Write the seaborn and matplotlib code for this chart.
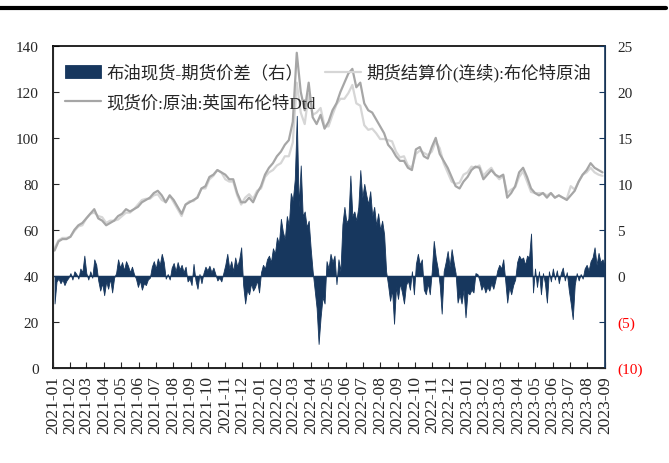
import numpy as np
import pandas as pd
import matplotlib
matplotlib.use("Agg")
import matplotlib.pyplot as plt
import matplotlib.dates as mdates
from matplotlib.lines import Line2D
import seaborn as sns

# weekly prices (USD/bbl), weeks starting 2021-01-04
spot = [51, 55, 56, 56, 57, 60, 62, 63, 65, 67,
        69, 65, 64, 62, 63, 64, 66, 67, 69, 68,
        69, 70, 72, 73, 74, 76, 77, 75, 72, 75,
        73, 70, 67, 71, 72, 73, 74, 78, 79, 83,
        84, 86, 85, 84, 82, 82, 76, 72, 72, 74,
        72, 76, 79, 84, 87, 89, 92, 94, 97, 99,
        107, 137, 120, 112, 124, 109, 106, 110, 104, 107,
        112, 115, 120, 124, 128, 130, 122, 124, 115, 112,
        111, 108, 105, 102, 97, 95, 92, 90, 90, 87,
        86, 95, 96, 92, 91, 96, 100, 93, 90, 87,
        83, 79, 78, 81, 83, 86, 87.5, 87, 82, 84,
        86, 84, 83, 84, 74, 76, 79, 85, 87, 83,
        78, 76, 75, 76, 74, 76, 74, 75, 74, 73,
        75, 77, 81, 84, 86, 89, 87, 86, 85]

futures = [52, 55.5, 56.5, 56.5, 57, 59.5, 61.5, 62, 65, 67,
           67.5, 66, 65.5, 63, 64, 64, 64.5, 66, 67.5, 67.5,
           69, 71, 73, 73.5, 73.5, 75, 75.5, 73, 72, 75,
           72, 69, 66, 71, 72.5, 72.5, 74.5, 78, 78, 82,
           83.5, 86, 85, 82, 81, 81, 75, 71, 74, 75.5,
           73.5, 77, 78, 83, 85, 86, 88, 89, 92, 92,
           98, 124, 111, 106, 119, 110, 111, 113, 105, 105,
           110, 114.5, 117, 117, 119.5, 123, 115, 114, 105.5, 103.5,
           104, 102, 99.5, 99.5, 99, 98.5, 94, 91.5, 92, 88,
           87, 93, 94.5, 93.5, 92.5, 94, 98.5, 95.5, 89, 85,
           81, 80, 80.5, 84, 85, 87.5, 87, 88, 83.5, 85.5,
           87, 84, 82, 83.5, 76, 77.5, 78.5, 83, 85.5, 81,
           76.5, 76, 76, 76, 75, 76, 74, 75, 74, 73.5,
           79, 77.5, 81, 84, 85, 87, 85, 84, 83.5]

# spot minus futures spread, twice a week
spread = [-3.0, -0.6, -0.3, -0.8, -0.4, -1.0, -0.5, -0.2, 0.3, -0.4,
          0.5, 0.2, -0.3, 0.8, 0.4, 2.2, 0.3, -0.4, 0.5, -0.2,
          1.8, 1.2, -0.5, -1.6, -0.8, -2.1, -0.6, -1.4, -0.3, -1.8,
          -0.2, 0.3, 1.8, 0.9, 1.5, 0.6, 1.6, 1.1, 0.4, 1.0,
          0.2, -0.3, -1.2, -0.5, -1.5, -0.8, -1.0, -0.4, -0.2, 1.0,
          1.6, 0.8, 1.9, 1.2, 2.4, 1.5, -0.3, 0.2, -0.4, 0.9,
          1.4, 0.5, 1.5, 0.7, 1.2, 0.4, 1.0, -0.6, -0.3, -1.0,
          1.3, -0.5, -1.4, 0.2, -0.8, 0.3, 1.0, 0.6, 1.1, 0.4,
          0.9, 0.2, -0.5, -0.2, -0.6, 0.3, 1.2, 2.4, 0.8, 1.6,
          0.5, 2.0, 1.0, 1.8, 3.1, -1.0, -3.0, -1.5, -2.0, -0.8,
          -1.6, -1.2, -0.5, -1.8, 0.4, 1.2, 0.8, 1.8, 2.2, 1.5,
          3.0, 2.4, 4.2, 3.5, 6.2, 4.8, 4.0, 6.5, 5.5, 9.0,
          8.2, 10.5, 17.4, 7.5, 12.0, 6.5, 7.0, 5.3, 6.0, 3.0,
          0.5, -1.5, -3.5, -7.4, -4.5, -2.3, -3.0, 1.6, 0.8, 2.4,
          1.5, 2.2, -0.9, 1.8, 0.5, 5.6, 7.5, 5.8, 6.2, 10.9,
          6.5, 7.0, 6.0, 7.5, 11.5, 8.5, 10.0, 8.8, 7.8, 9.2,
          6.5, 7.5, 5.5, 6.8, 5.0, 6.0, 4.5, 0.5, -1.0, -2.7,
          -1.5, -5.2, -1.2, -2.5, -0.8, -1.8, -3.0, -1.0, -0.5, -1.5,
          0.5, -2.0, 1.3, 2.4, 1.2, 1.8, -1.5, -2.0, -0.8, -2.0,
          0.5, 3.8, 2.0, 0.8, -1.0, -4.1, 0.5, 1.5, 2.7, 1.0,
          2.9, 1.5, 0.3, -2.9, -2.0, -3.0, -1.5, -4.5, -1.8, -2.0,
          -1.5, -1.8, 0.3, 0.2, -0.5, -1.5, -1.0, -1.8, -1.2, -1.6,
          -0.8, -1.4, -0.5, 0.6, 1.2, 0.8, 1.8, -0.5, -2.9, -1.2,
          -2.0, -1.0, -0.4, 1.5, 2.2, 1.8, 2.0, 1.2, 2.2, 2.0,
          4.6, -1.8, 0.8, -1.2, 0.5, -2.0, 0.3, -0.8, -2.9, 0.5,
          -0.6, 0.8, -0.4, 0.6, -0.8, 0.3, 0.9, -0.5, 0.4, -1.5,
          -3.0, -4.7, -1.0, 0.3, -0.5, 0.2, -0.3, 0.8, 1.2, 0.6,
          1.6, 2.0, 3.1, 1.2, 2.5, 1.5, 1.8, 1.2]

label_spread = "布油现货-期货价差（右）"
label_futures = "期货结算价(连续):布伦特原油"
label_spot = "现货价:原油:英国布伦特Dtd"

left_ticks = [0, 20, 40, 60, 80, 100, 120, 140]
right_ticks = [-10, -5, 0, 5, 10, 15, 20, 25]

weeks = pd.date_range("2021-01-04", periods=len(spot), freq="W-MON")
halfweeks = pd.date_range("2021-01-04", periods=len(spread), freq="84h")
df_price = pd.DataFrame({"date": weeks, "spot": spot, "futures": futures})
df_spread = pd.DataFrame({"date": halfweeks, "spread": spread})

sns.set_style("ticks")
plt.rcParams["font.family"] = ["Liberation Serif", "Noto Sans CJK SC"]

navy = "#17375e"
dark_gray = "#a6a6a6"
light_gray = "#d6d6d6"

fig = plt.figure(figsize=(6.69, 4.64), dpi=100)
ax = fig.add_axes([0.079, 0.205, 0.825, 0.694])

sns.lineplot(data=df_price, x="date", y="futures", ax=ax, color=light_gray,
             linewidth=1.6, label=label_futures)
sns.lineplot(data=df_price, x="date", y="spot", ax=ax, color=dark_gray,
             linewidth=1.6, label=label_spot)

ax2 = ax.twinx()
ax2.fill_between(df_spread["date"], 0, df_spread["spread"], color=navy,
                 linewidth=0.6, edgecolor=navy, label=label_spread)
ax2.axhline(0, color=navy, linewidth=1.0)

ax.set_xlim(pd.Timestamp("2021-01-01"), pd.Timestamp("2023-09-01"))
ax.set_ylim(0, 140)
ax2.set_ylim(-10, 25)
ax.set_yticks(left_ticks)
ax2.set_yticks(right_ticks)
ax2.set_yticklabels([f"({abs(v)})" if v < 0 else str(v) for v in right_ticks])
for t, v in zip(ax2.get_yticklabels(), right_ticks):
    if v < 0:
        t.set_color("red")

ax.xaxis.set_major_locator(mdates.MonthLocator())
ax.xaxis.set_major_formatter(mdates.DateFormatter("%Y-%m"))
ax.set_xlabel("")
ax.set_ylabel("")
ax.tick_params(axis="x", direction="in", length=4, labelsize=12.5, rotation=90, pad=5)
ax.tick_params(axis="y", direction="in", length=4, labelsize=11, pad=10)
ax2.tick_params(axis="y", direction="in", length=4, labelsize=11, pad=9, color=navy)

for s in ["left", "bottom", "top"]:
    ax.spines[s].set_color("black")
    ax.spines[s].set_linewidth(1.2)
ax2.spines["right"].set_color(navy)
ax2.spines["right"].set_linewidth(1.2)
ax2.spines["top"].set_visible(False)

ax.get_legend().remove()
h1, l1 = ax.get_legend_handles_labels()
h2, l2 = ax2.get_legend_handles_labels()
handles = [h2[0], h1[1], h1[0]]
labels = [l2[0], l1[1], l1[0]]
ax2.legend(handles, labels, ncol=2, frameon=False, loc="upper left",
           bbox_to_anchor=(0.0, 0.985), fontsize=12.5, handlelength=2.1,
           handletextpad=0.3, columnspacing=0.5, labelspacing=0.75,
           borderaxespad=0.3)

fig.add_artist(Line2D([0.0, 0.995], [0.981, 0.981], color="black", linewidth=3))

fig.savefig("out.png", dpi=100)
